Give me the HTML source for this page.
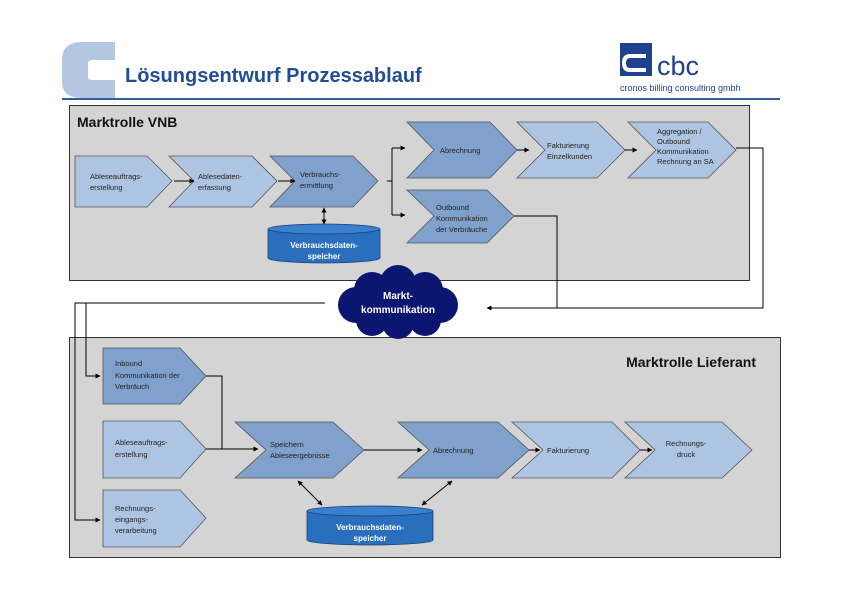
<!DOCTYPE html>
<html><head><meta charset="utf-8"><style>
html,body{margin:0;padding:0;background:#fff}
svg{display:block}
text{font-family:"Liberation Sans",sans-serif}
.s{font-size:7.5px;fill:#222}
</style></head><body>
<svg width="842" height="595" viewBox="0 0 842 595" xmlns="http://www.w3.org/2000/svg">
<defs>
<marker id="a" viewBox="0 0 10 10" refX="9" refY="5" markerWidth="5" markerHeight="5" orient="auto-start-reverse"><path d="M0,0 L10,5 L0,10 Z" fill="#000"/></marker>
</defs>
<!-- header -->
<path d="M115,42 L82,42 Q62,42 62,60 L62,82 Q62,98 82,98 L115,98 L115,80 L92,80 Q88,80 88,76 L88,64 Q88,60 92,60 L115,60 Z" fill="#b3c7e3"/>
<text x="125" y="82" font-size="20" font-weight="bold" fill="#1f4e96">Lösungsentwurf Prozessablauf</text>
<rect x="620" y="43" width="32" height="33" fill="#1f3f8f"/>
<path d="M646,68 L630,68 Q626,68 626,63 Q626,58 630,58 L646,58 L646,54 L630,54 Q622,54 622,63 Q622,72 630,72 L646,72 Z" fill="#fff"/>
<text x="657" y="75" font-size="27" fill="#1f3f8f">cbc</text>
<text x="620" y="91" font-size="9" fill="#1f3f8f">cronos  billing consulting gmbh</text>
<rect x="62" y="98" width="718" height="2" fill="#2f5f9f"/>

<!-- VNB box -->
<rect x="69.5" y="105.5" width="680" height="175" fill="#d4d4d4" stroke="#333" stroke-width="1"/>
<text x="77" y="127" font-size="14" font-weight="bold" fill="#111">Marktrolle VNB</text>

<g stroke="#555" stroke-width="0.8">
<path d="M75,156 L147,156 L172,181 L147,207 L75,207 Z" fill="#adc5e3"/>
<path d="M169,156 L252,156 L277,181 L252,207 L169,207 L194,181 Z" fill="#adc5e3"/>
<path d="M270,156 L353,156 L378,181 L353,207 L270,207 L295,181 Z" fill="#7fa1cc"/>
<path d="M407,122 L490,122 L517,150 L490,178 L407,178 L434,150 Z" fill="#7fa1cc"/>
<path d="M517,122 L597,122 L625,150 L597,178 L517,178 L545,150 Z" fill="#adc5e3"/>
<path d="M628,122 L708,122 L736,150 L708,178 L628,178 L656,150 Z" fill="#adc5e3"/>
<path d="M407,190 L487,190 L514,216 L487,243 L407,243 L434,216 Z" fill="#7fa1cc"/>
</g>
<text class="s" x="90" y="179">Ableseauftrags-</text><text class="s" x="90" y="190">erstellung</text>
<text class="s" x="198" y="179">Ablesedaten-</text><text class="s" x="198" y="190">erfassung</text>
<text class="s" x="300" y="177">Verbrauchs-</text><text class="s" x="300" y="188">ermittlung</text>
<text class="s" x="440" y="153">Abrechnung</text>
<text class="s" x="547" y="148">Fakturierung</text><text class="s" x="547" y="159">Einzelkunden</text>
<text class="s" x="657" y="134">Aggregation /</text><text class="s" x="657" y="144">Outbound</text><text class="s" x="657" y="154">Kommunikation</text><text class="s" x="657" y="164">Rechnung an SA</text>
<text class="s" x="436" y="210">Outbound</text><text class="s" x="436" y="221">Kommunikation</text><text class="s" x="436" y="232">der Verbräuche</text>

<!-- cylinder 1 -->
<path d="M268,229 L268,258 A56,5 0 0 0 380,258 L380,229" fill="#2a6fbe" stroke="#1a3f7a" stroke-width="0.8"/>
<ellipse cx="324" cy="229" rx="56" ry="5" fill="#3a80cc" stroke="#1a3f7a" stroke-width="0.8"/>
<text x="324" y="248" font-size="8" font-weight="bold" fill="#fff" text-anchor="middle">Verbrauchsdaten-</text>
<text x="324" y="259" font-size="8" font-weight="bold" fill="#fff" text-anchor="middle">speicher</text>

<g stroke="#000" stroke-width="1" fill="none">
<line x1="174" y1="181" x2="194" y2="181" marker-end="url(#a)"/>
<line x1="278" y1="181" x2="295" y2="181" marker-end="url(#a)"/>
<line x1="324" y1="208" x2="324" y2="224" marker-end="url(#a)" marker-start="url(#a)"/>
<polyline points="387,181 392,181"/>
<line x1="392" y1="148" x2="392" y2="215"/>
<line x1="392" y1="148" x2="405" y2="148" marker-end="url(#a)"/>
<line x1="392" y1="215" x2="405" y2="215" marker-end="url(#a)"/>
<line x1="517" y1="150" x2="529" y2="150" marker-end="url(#a)"/>
<line x1="625" y1="150" x2="637" y2="150" marker-end="url(#a)"/>
<polyline points="736,148 763,148 763,308 487,308" marker-end="url(#a)"/>
<polyline points="514,216 557,216 557,308"/>
</g>

<!-- Lieferant box -->
<rect x="69.5" y="337.5" width="711" height="220" fill="#d4d4d4" stroke="#333" stroke-width="1"/>
<text x="756" y="367" font-size="14" font-weight="bold" fill="#111" text-anchor="end">Marktrolle Lieferant</text>

<g stroke="#000" stroke-width="1" fill="none">
<polyline points="325,303 75,303 75,520 100,520" marker-end="url(#a)"/>
<polyline points="86,303 86,376 100,376" marker-end="url(#a)"/>
</g>

<g stroke="#555" stroke-width="0.8">
<path d="M103,348 L180,348 L206,376 L180,404 L103,404 Z" fill="#7fa1cc"/>
<path d="M103,421 L180,421 L206,449 L180,478 L103,478 Z" fill="#adc5e3"/>
<path d="M103,490 L180,490 L206,518 L180,547 L103,547 Z" fill="#adc5e3"/>
<path d="M235,422 L333,422 L364,450 L333,478 L235,478 L266,450 Z" fill="#7fa1cc"/>
<path d="M398,422 L498,422 L529,450 L498,478 L398,478 L429,450 Z" fill="#7fa1cc"/>
<path d="M512,422 L612,422 L640,450 L612,478 L512,478 L543,450 Z" fill="#adc5e3"/>
<path d="M625,422 L722,422 L752,450 L722,478 L625,478 L655,450 Z" fill="#adc5e3"/>
</g>
<text class="s" x="115" y="366">Inbound</text><text class="s" x="115" y="378">Kommunikation der</text><text class="s" x="115" y="389">Verbräuch</text>
<text class="s" x="115" y="445">Ableseauftrags-</text><text class="s" x="115" y="457">erstellung</text>
<text class="s" x="115" y="511">Rechnungs-</text><text class="s" x="115" y="522">eingangs-</text><text class="s" x="115" y="533">verarbeitung</text>
<text class="s" x="270" y="447">Speichern</text><text class="s" x="270" y="458">Ableseergebnisse</text>
<text class="s" x="433" y="453">Abrechnung</text>
<text class="s" x="547" y="453">Fakturierung</text>
<text class="s" x="686" y="446" text-anchor="middle">Rechnungs-</text><text class="s" x="686" y="457" text-anchor="middle">druck</text>

<!-- cylinder 2 -->
<path d="M307,511 L307,540 A63,5 0 0 0 433,540 L433,511" fill="#2a6fbe" stroke="#1a3f7a" stroke-width="0.8"/>
<ellipse cx="370" cy="511" rx="63" ry="5" fill="#3a80cc" stroke="#1a3f7a" stroke-width="0.8"/>
<text x="370" y="530" font-size="8" font-weight="bold" fill="#fff" text-anchor="middle">Verbrauchsdaten-</text>
<text x="370" y="541" font-size="8" font-weight="bold" fill="#fff" text-anchor="middle">speicher</text>

<g stroke="#000" stroke-width="1" fill="none">
<polyline points="206,376 222,376 222,449"/>
<line x1="206" y1="449" x2="258" y2="449" marker-end="url(#a)"/>
<line x1="364" y1="450" x2="422" y2="450" marker-end="url(#a)"/>
<line x1="529" y1="450" x2="540" y2="450" marker-end="url(#a)"/>
<line x1="640" y1="450" x2="652" y2="450" marker-end="url(#a)"/>
<line x1="298" y1="481" x2="322" y2="505" marker-end="url(#a)" marker-start="url(#a)"/>
<line x1="452" y1="481" x2="422" y2="505" marker-end="url(#a)" marker-start="url(#a)"/>
</g>

<!-- cloud -->
<g fill="#0a1670">
<circle cx="372" cy="290" r="18"/><circle cx="398" cy="283" r="18"/><circle cx="425" cy="290" r="18"/>
<circle cx="356" cy="305" r="18"/><circle cx="440" cy="305" r="18"/>
<circle cx="372" cy="320" r="16"/><circle cx="398" cy="323" r="16"/><circle cx="425" cy="320" r="16"/>
<ellipse cx="398" cy="305" rx="50" ry="22"/>
</g>
<text x="398" y="299" font-size="10" font-weight="bold" fill="#fff" text-anchor="middle">Markt-</text>
<text x="398" y="313" font-size="10" font-weight="bold" fill="#fff" text-anchor="middle">kommunikation</text>
</svg>
</body></html>
